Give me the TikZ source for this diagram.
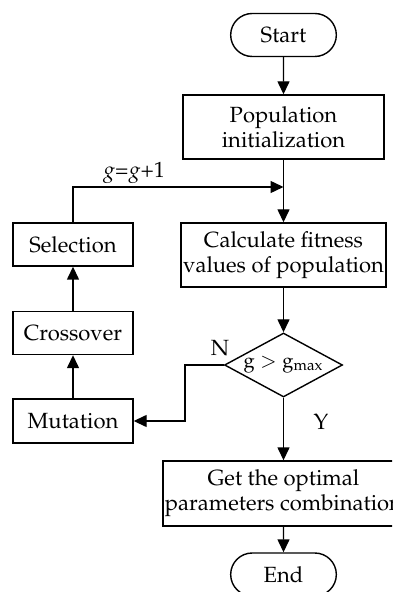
\documentclass[tikz,border=0pt]{standalone}
\usepackage[T1]{fontenc}
\usepackage{mathpazo}
\usepackage{tikz}
\usetikzlibrary{arrows.meta, shapes.geometric, shapes.misc}

\begin{document}
\begin{tikzpicture}[x=0.5pt, y=-0.5pt, line width=0.7pt,
        font=\fontsize{11}{12.5}\selectfont,
        >={Triangle[length=6.5pt, width=6pt]},
        box/.style={draw, rectangle, align=center, inner sep=1pt},
        term/.style={draw, rounded rectangle, minimum width=59.5pt, minimum height=21.5pt},
        test/.style={draw, diamond, aspect=1.85, minimum width=59pt, minimum height=32pt, inner sep=0pt}]
        \useasboundingbox[clip] (0,0) rectangle (392,592);

        % main column
        \node[term] (start) at (283.5,35) {Start};
        \node[box, minimum width=100.5pt, minimum height=32pt] (pop) at (283.5,127)
            {Population\\initialization};
        \coordinate (join) at (283.5,187);
        \node[box, minimum width=98.5pt, minimum height=32pt] (calc) at (283.5,255)
            {Calculate fitness\\values of population};
        \node[test, font=\fontsize{10}{12}\selectfont] (dec) at (283.5,365)
            {$\mathrm{g}>\mathrm{g}_{\mathrm{max}}$};
        \node[box, minimum width=117pt, minimum height=32.5pt] (get) at (283.5,493.5)
            {Get the optimal\\parameters combination};
        \node[term] (end) at (283.5,574.5) {End};

        % loop column
        \node[box, minimum width=60pt, minimum height=21.5pt] (sel) at (73,244.5) {Selection};
        \node[box, minimum width=60pt, minimum height=21.5pt] (cross) at (73,333) {Crossover};
        \node[box, minimum width=60pt, minimum height=22pt] (mut) at (73,421) {Mutation};
        \coordinate (turn) at (185,365);

        \draw[->] (start) -- (pop);
        \draw[->] (pop) -- (calc);
        \draw[->] (calc) -- (dec);
        \draw[->] (dec) -- (get);
        \draw[->] (get) -- (end);
        \draw[->] (dec.west) -- (turn) |- (mut.east);
        \draw[->] (mut) -- (cross);
        \draw[->] (cross) -- (sel);
        \draw[->] (sel.north) |- node[pos=0.645, above, inner sep=1.5pt] {$g$=$g$+1} (join);

        \node (n) at (220,348) {N};
        \node (y) at (321,422) {Y};
    \end{tikzpicture}
\end{document}
